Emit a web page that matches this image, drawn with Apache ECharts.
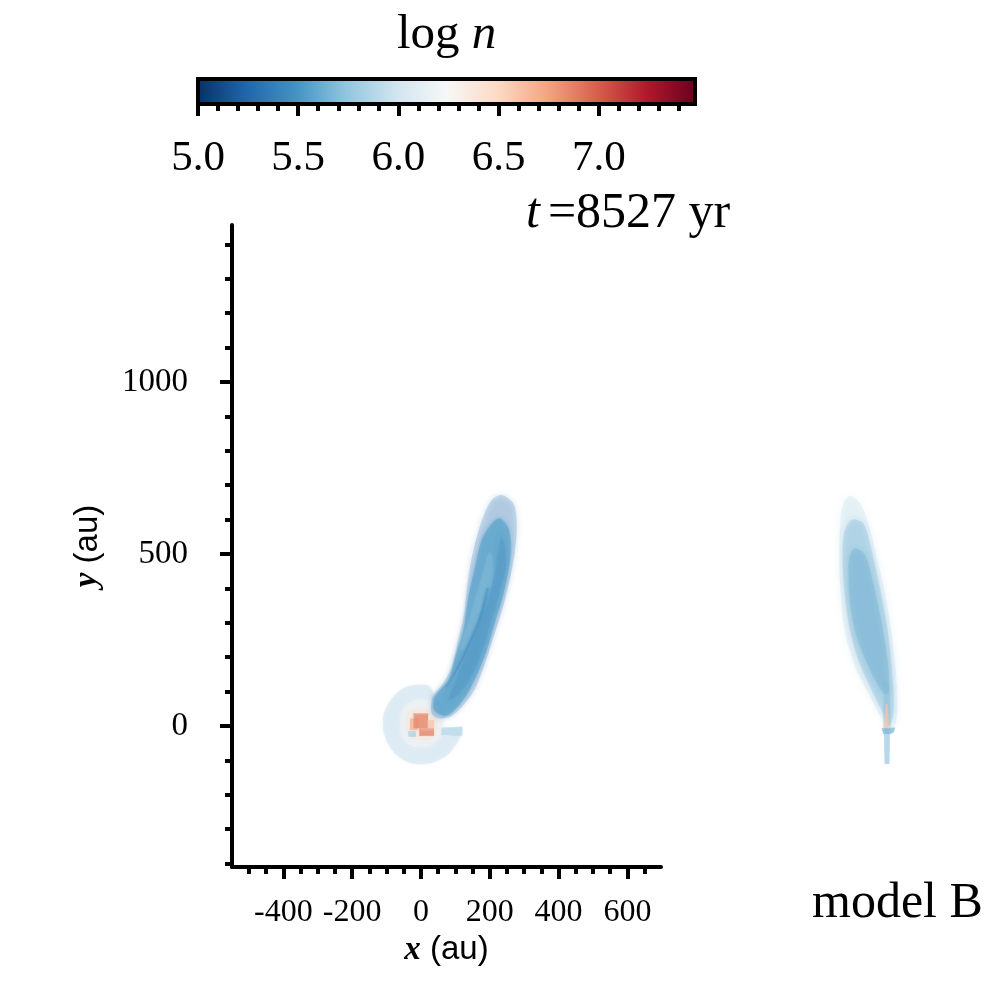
<!DOCTYPE html>
<html><head><meta charset="utf-8">
<style>html,body{margin:0;padding:0;background:#fff}#c{width:1000px;height:992px}</style>
<script src="https://cdn.jsdelivr.net/npm/echarts@6/dist/echarts.min.js"></script>
</head><body><div id="c"></div>
<script>
// --- tick values ---
const xMajor = [-400,-200,0,200,400,600];
const xMinor = [-550,-500,-450,-350,-300,-250,-150,-100,-50,50,100,150,250,300,350,450,500,550,650];
const yMajor = [0,500,1000];
const yMinor = [-400,-300,-200,-100,100,200,300,400,600,700,800,900,1100,1200,1300,1400];
const cbMajor = [5.0,5.5,6.0,6.5,7.0];
const cbMinor = [5.1,5.2,5.3,5.4,5.6,5.7,5.8,5.9,6.1,6.2,6.3,6.4,6.6,6.7,6.8,6.9,7.1,7.2,7.3,7.4];
// --- colour scale (RdBu reversed) ---
const cmapStops = ['#053061','#2166ac','#4393c3','#92c5de','#d1e5f0','#f7f7f7','#fddbc7','#f4a582','#d6604d','#b2182b','#67001f'];
const logMin = 5.0, logMax = 7.48;
// --- x-y plane: density contours, [x au, y au] ---
const plumeOuter = [[234.5,671.5],[268.4,647.3],[278,598.8],[276,531],[264,453.5],[244,366.3],[227,308],[208,250],[183,172],[160,114],[135,75],[90,30],[50.4,22.3],[31,36.8],[34,85.2],[65,124],[89,172.5],[108,250],[122,308],[128,347],[137.6,434],[157,531],[181,608.5],[205.5,657]];
const plumeInner = [[229.7,603.7],[256,569.7],[260,492.2],[240,385.6],[214,298.4],[188,211],[155,133],[122,75],[75,30],[38,46.5],[40.7,85.2],[79.5,133.7],[100,201.5],[123,279],[137.6,376],[155,453.5],[176.4,540.7],[205.5,589]];
const plumeStripe = [[234.5,550.4],[248,482.5],[228,385.6],[202,298.4],[175,211],[140,133.7],[100,85],[80,75.6],[105,143.4],[140,221],[180,317.8],[208,414.7],[222,492]];
const plumeSeam = [[190,400],[166,308],[119,200],[84,133],[70,110],[80,120],[126,200],[175,308],[198,400]];
const plumeRim = [[200.6,506.8],[210,434],[171.5,327],[123,221],[113.4,221],[147.3,337],[176.4,434]];
const disk = [[21.3,117.2],[-41.6,114.3],[-80.4,85.2],[-107.5,36.8],[-107.5,-21.3],[-80.4,-74.6],[-32,-106.6],[26.2,-108.6],[76.6,-84.3],[103.7,-50.4],[113.4,-26.2],[65,-26.2],[60,7.7],[70,36.8],[40.7,85.2]];
const diskInner = [[-60,10],[-48,55],[0,76],[50,58],[68,8],[50,-40],[0,-62],[-48,-42]];
const diskTail = [[60,-5],[120,-2],[120,-28],[60,-26]];
const coreHalo = [[-42,30],[-25,48],[15,48],[42,28],[46,-15],[30,-38],[-20,-38],[-42,-20]];
const coreA = [[-22,37],[21,37],[21,-7],[-22,-7]];
const coreB = [[-5,-7],[38,-7],[38,-29],[-5,-29]];
const coreC = [[-32,22],[-8,22],[-8,-12],[-32,-12]];
const coreD = [[17,17],[38,17],[38,-7],[17,-7]];
const coreBlue = [[-37,-14],[-14,-14],[-14,-31],[-37,-31]];
// --- edge-on view, same y scale ---
const edgeOuter = [[-104.7,668.6],[-75.6,647.3],[-51.4,589],[-27,492],[-2.9,385.6],[16.4,269.4],[31,133.7],[33,46.5],[23.2,-2],[-7.8,17.4],[-46.5,85.2],[-90,172.5],[-119,269.4],[-131.8,385.6],[-135.7,492.2],[-131.8,608.5],[-122,652]];
const edgeMid = [[-99.8,598.8],[-65.9,589],[-46.5,531],[-22.3,424.4],[1.9,298.4],[16.4,172.5],[23.2,56.2],[11.6,2.9],[-7.8,36.8],[-46.5,114.3],[-80.5,191.8],[-104.7,279],[-119.2,376],[-126,472.8],[-122,560]];
const edgeInner = [[-90.2,516.5],[-61,497],[-36.9,414.7],[-12.6,298.4],[6.7,172.5],[6.7,95],[-7.8,95],[-46.5,162.8],[-85.3,259.7],[-104.7,356.6],[-109.5,453.5],[-104.7,497]];
const edgeUpper = [[-5.9,124],[9.7,124],[13.5,-6.8],[-7.8,-6.8]];
const edgeStem = [[-5.9,-6.8],[11.6,-6.8],[9.7,-110.5],[-3.9,-110.5]];
const edgeBase = [[-12.6,-6.8],[26.1,-4],[23.2,-16.5],[13.5,-23.3],[-7.8,-23.3]];
const edgeCore = [[-1,63.9],[4.8,63.9],[9.7,-6.8],[-5.9,-6.8]];

// layers: [outline, log n, opacity, smooth, blur]
const xyLayers = [
  [disk,6.03,0.6,0.3,3],[diskInner,6.2,0.55,0.5,6],[coreHalo,6.42,0.35,0.5,6],
  [plumeOuter,5.3,0.2,0.3,6],[plumeInner,5.58,0.62,0.3,4],
  [plumeRim,5.8,0.18,0.4,6],[plumeStripe,5.4,0.16,0.4,6],[plumeSeam,5.35,0.22,0.3,3],
  [diskTail,5.85,0.5,0,2],
  [coreC,6.7,0.45,0,1],[coreA,6.85,0.55,0,1],[coreB,6.85,0.55,0,1],[coreD,6.65,0.35,0,1],[coreBlue,5.85,0.55,0,1]
];
const edgeLayers = [
  [edgeOuter,5.5,0.08,0.3,8],[edgeMid,5.65,0.26,0.3,6],[edgeInner,5.6,0.28,0.3,6],
  [edgeUpper,5.7,0.25,0,2],[edgeStem,5.85,0.65,0,1],[edgeBase,5.7,0.55,0,1],[edgeCore,6.6,0.5,0,2]
];
function logColor(v){
  const t = Math.max(0,Math.min(1,(v-logMin)/(logMax-logMin)))*(cmapStops.length-1);
  const i = Math.min(Math.floor(t),cmapStops.length-2), f = t-i;
  const p = s=>[1,3,5].map(k=>parseInt(s.substr(k,2),16));
  const a=p(cmapStops[i]), b=p(cmapStops[i+1]);
  return 'rgb('+a.map((c,k)=>Math.round(c+(b[k]-c)*f)).join(',')+')';
}
function layerRender(layers){
  return function(params,api){
    const L = layers[params.dataIndex];
    const col = logColor(L[1]);
    return {type:'polygon',shape:{points:L[0].map(p=>api.coord(p)),smooth:L[3]},
      style:{fill:col,opacity:L[2],shadowBlur:L[4],shadowColor:col}};
  };
}
const sf = 'Liberation Serif', ss = 'Liberation Sans';
const pxPerAu = 0.344, x0 = 421, y0 = 726, gTop = 225, gBot = 867, gLeft = 232, gRight = 661;
const yMax = (y0-gTop)/pxPerAu, yMin = (y0-gBot)/pxPerAu;
const xMin = (gLeft-x0)/pxPerAu, xMax = (gRight-x0)/pxPerAu;
const line = {color:'#000',width:4};
function hiddenAxis(idx,min,max){return {type:'value',gridIndex:idx,min,max,show:false};}
function tickAxis(base,ticks,len,labels,labelOpts){
  return Object.assign({type:'value',scale:true,splitLine:{show:false},
    axisLine:{show:!!labels,onZero:false,lineStyle:line},
    axisTick:{show:true,customValues:ticks,length:len,lineStyle:{color:'#000',width:4}},
    axisLabel:labels?Object.assign({show:true,customValues:ticks,hideOverlap:false,showMinLabel:true,showMaxLabel:true},labelOpts):{show:false}
  },base);
}
const txt = (size,extra)=>Object.assign({fontFamily:sf,fontSize:size,fontWeight:'normal',color:'#000'},extra||{});
const nameRich = {i:{fontFamily:sf,fontSize:33,fontStyle:'italic',fontWeight:'bold',color:'#000'},r:{fontFamily:ss,fontSize:33,fontWeight:'normal',color:'#000'}};
const chart = echarts.init(document.getElementById('c'),null,{renderer:'canvas'});
chart.setOption({
  animation:false,
  backgroundColor:'#fff',
  title:[
    {text:'{a|log }{b|n}',left:392,top:6,textStyle:{fontWeight:'normal',rich:{a:txt(49),b:txt(49,{fontStyle:'italic'})}}},
    {text:'{b|t}{a|=8527 yr}',left:521,top:184,textStyle:{fontWeight:'normal',rich:{a:txt(50),b:txt(50,{fontStyle:'italic',padding:[0,8,0,0]})}}},
    {text:'model B',left:807,top:874,textStyle:txt(50)}
  ],
  grid:[
    {left:gLeft,top:gTop,width:gRight-gLeft,height:gBot-gTop,containLabel:false},
    {left:198,top:79,width:497,height:25},
    {left:700,top:gTop,width:300,height:gBot-gTop}
  ],
  xAxis:[
    tickAxis({gridIndex:0,min:xMin,max:xMax,position:'bottom',
      name:'{i|x}{r| (au)}',nameLocation:'middle',nameGap:66,nameTextStyle:{rich:nameRich}},
      xMajor,12,true,{fontFamily:sf,fontSize:32,color:'#000',margin:30,formatter:v=>String(v)}),
    tickAxis({gridIndex:0,min:xMin,max:xMax,position:'bottom'},xMinor,7,false),
    tickAxis({gridIndex:1,min:logMin,max:logMax,position:'bottom',axisLine:{show:false}},
      cbMajor,12,true,{fontFamily:sf,fontSize:43,color:'#000',margin:33,formatter:v=>v.toFixed(1)}),
    tickAxis({gridIndex:1,min:logMin,max:logMax,position:'bottom'},cbMinor,7,false),
    hiddenAxis(2,(700-886)/pxPerAu,(1000-886)/pxPerAu)
  ],
  yAxis:[
    tickAxis({gridIndex:0,min:yMin,max:yMax,position:'left',
      name:'{i|y}{r| (au)}',nameLocation:'middle',nameGap:128,nameRotate:90,nameTextStyle:{rich:nameRich}},
      yMajor,12,true,{fontFamily:sf,fontSize:33,color:'#000',margin:44,padding:[6,0,0,0],formatter:v=>String(v)}),
    tickAxis({gridIndex:0,min:yMin,max:yMax,position:'left'},yMinor,7,false),
    hiddenAxis(1,0,1),
    hiddenAxis(2,yMin,yMax)
  ],
  series:[
    {type:'custom',xAxisIndex:0,yAxisIndex:0,clip:false,silent:true,data:xyLayers.map((l,i)=>[i]),renderItem:layerRender(xyLayers)},
    {type:'custom',xAxisIndex:4,yAxisIndex:3,clip:false,silent:true,data:edgeLayers.map((l,i)=>[i]),renderItem:layerRender(edgeLayers)},
    {type:'custom',xAxisIndex:2,yAxisIndex:2,clip:false,silent:true,data:[[logMin,logMax]],
     renderItem:function(params,api){
       const a=api.coord([api.value(0),1]), b=api.coord([api.value(1),0]);
       return {type:'rect',shape:{x:a[0],y:a[1],width:b[0]-a[0],height:b[1]-a[1]},
         style:{stroke:'#000',lineWidth:4,fill:new echarts.graphic.LinearGradient(0,0,1,0,
           cmapStops.map((c,i)=>({offset:i/(cmapStops.length-1),color:c})))}};
     }}
  ]
});
</script></body></html>
